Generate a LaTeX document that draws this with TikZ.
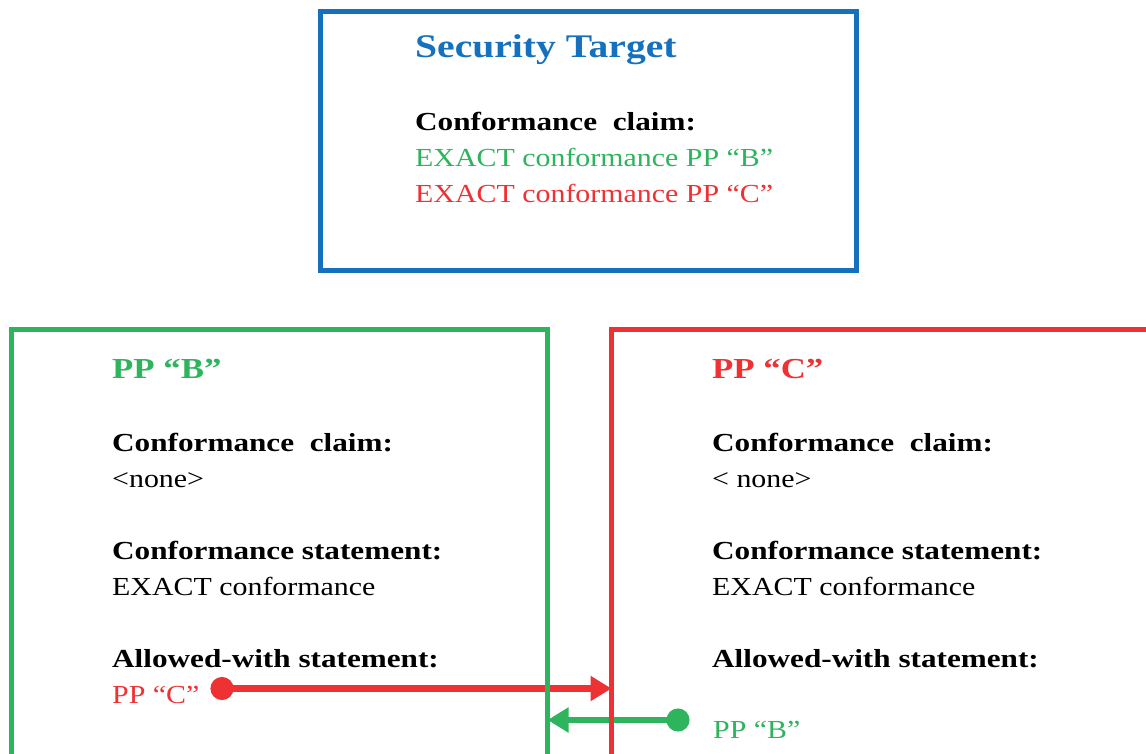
\documentclass[tikz,border=0pt]{standalone}
\usepackage{fontspec}
\setmainfont{Liberation Serif}[FakeStretch=1.15, BoldFeatures={FakeStretch=1.2}]
\usetikzlibrary{arrows.meta}
\definecolor{stblue}{RGB}{21,113,190}
\definecolor{ppgreen}{RGB}{45,180,93}
\definecolor{ppred}{RGB}{238,50,51}

\begin{document}
\begin{tikzpicture}[x=1pt, y=-1pt,
  frame/.style={draw, line width=5pt, inner sep=0pt, outer sep=0pt},
  txt/.style={anchor=base west, inner sep=0pt, font=\fontsize{26}{30}\selectfont},
  head/.style={txt, font=\fontsize{26}{30}\selectfont\bfseries},
  title/.style={anchor=base west, inner sep=0pt, font=\fontsize{29}{34}\selectfont\bfseries},
  link/.style={line width=6.5pt, {Circle[length=23pt]}-{Triangle[length=21pt,width=24pt]}}]
  \useasboundingbox (0,0) rectangle (1146,753);
  \clip (0,0) rectangle (1146,753);
  % security target
  \node[title, text=stblue, font=\fontsize{33}{38}\selectfont\bfseries] (sttitle) at (415,57) {Security Target};
  \node[head] (stclaim) at (415,130) {Conformance\ \ claim:};
  \node[txt, text=ppgreen] (stb) at (415,166) {EXACT conformance PP “B”};
  \node[txt, text=ppred] (stc) at (415,202) {EXACT conformance PP “C”};
  % PP B
  \node[title, text=ppgreen] (pbtitle) at (112,378) {PP “B”};
  \node[head] (pbclaim) at (112,451) {Conformance\ \ claim:};
  \node[txt] (pbnone) at (112,487) {<none>};
  \node[head] (pbstat) at (112,559) {Conformance statement:};
  \node[txt] (pbexact) at (112,595) {EXACT conformance};
  \node[head] (pballow) at (112,667) {Allowed-with statement:};
  \node[txt, text=ppred] (pbwith) at (112,703) {PP “C”};
  % PP C
  \node[title, text=ppred] (pctitle) at (712,378) {PP “C”};
  \node[head] (pcclaim) at (712,451) {Conformance\ \ claim:};
  \node[txt] (pcnone) at (712,487) {< none>};
  \node[head] (pcstat) at (712,559) {Conformance statement:};
  \node[txt] (pcexact) at (712,595) {EXACT conformance};
  \node[head] (pcallow) at (712,667) {Allowed-with statement:};
  \node[txt, text=ppgreen] (pcwith) at (713,738) {PP “B”};
  % links
  \coordinate (dotc) at (210.5,688.5);
  \coordinate (dotb) at (689.5,720);
  \node[frame, draw=none, minimum width=536pt, minimum height=490.5pt] (ppb) at (279.5,574.75) {};
  \node[frame, draw=none, minimum width=638.5pt, minimum height=490.5pt] (ppc) at (930.75,574.75) {};
  \draw[link, ppred] (dotc) -- (dotc -| ppc.west);
  \draw[link, ppgreen] (dotb) -- (dotb -| ppb.east);
  % boxes
  \node[frame, draw=stblue, minimum width=536.7pt, minimum height=259.1pt] (st) at (588.35,141.25) {};
  \draw[line width=5pt, ppgreen] (ppb.south west) rectangle (ppb.north east);
  \draw[line width=5pt, ppred] (ppc.south west) rectangle (ppc.north east);
\end{tikzpicture}
\end{document}
